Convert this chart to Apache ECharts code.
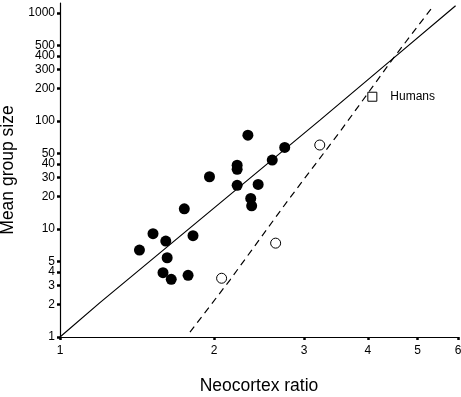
<!DOCTYPE html>
<html>
<head>
<meta charset="utf-8">
<script src="https://cdn.jsdelivr.net/npm/echarts@6/dist/echarts.min.js"></script>
<style>
  html, body { margin: 0; padding: 0; background: #fff; }
  #chart { width: 461px; height: 397px; }
</style>
</head>
<body>
<div id="chart"></div>
<script>
// tick labels
const xTicks = [1, 2, 3, 4, 5, 6];
const yTicks = [1, 2, 3, 4, 5, 10, 20, 30, 40, 50, 100, 200, 300, 400, 500, 1000];

// non-human primates (filled circles)
const primateRatio = [2.33, 2.75, 2.60, 2.22, 2.22, 1.96, 2.22, 2.44, 2.36, 2.37,
                      1.75, 1.52, 1.82, 1.61, 1.43, 1.62, 1.59, 1.65, 1.78];
const primateGroup = [74, 57, 43.5, 39, 35.7, 30.5, 25.4, 25.9, 19.2, 16.4,
                      15.4, 9.05, 8.67, 7.74, 6.39, 5.42, 3.94, 3.42, 3.73];

// open circles
const openRatio = [3.22, 2.64, 2.07];
const openGroup = [60, 7.4, 3.5];

// humans (square)
const humanRatio = [4.08];
const humanGroup = [168];

// regression lines
const solidRatio = [1, 1.197, 3.223, 4.482, 5.935];
const solidGroup = [1, 2.08, 102, 381, 1168];
const dashRatio = [1.795, 2.149, 2.795, 3.526, 4.482, 5.343];
const dashGroup = [1.11, 3.37, 18.6, 79.6, 381, 1129];

const font = 'Liberation Sans, Arial, Helvetica, sans-serif';
const zip = (a, b) => a.map((v, i) => [v, b[i]]);
const plain = v => String(Math.round(v));

const chart = echarts.init(document.getElementById('chart'));

chart.setOption({
  animation: false,
  backgroundColor: '#fff',
  grid: { left: 60, right: 3, top: 3, bottom: 60, containLabel: false, outerBoundsMode: 'none' },
  xAxis: {
    type: 'log',
    logBase: 10,
    min: 1,
    max: 6,
    name: 'Neocortex ratio',
    nameLocation: 'middle',
    nameGap: 40,
    nameTextStyle: { fontFamily: font, fontSize: 17.5, color: '#000' },
    axisLine: { lineStyle: { color: '#000', width: 1.2 } },
    axisTick: { show: true, length: 3, customValues: xTicks, lineStyle: { color: '#000', width: 2.5 } },
    axisLabel: { customValues: xTicks, formatter: plain, margin: 8, fontFamily: font, fontSize: 12, color: '#000' },
    splitLine: { show: false },
    minorTick: { show: false }
  },
  yAxis: {
    type: 'log',
    logBase: 10,
    min: 1,
    max: 1240,
    name: 'Mean group size',
    nameLocation: 'middle',
    nameGap: 41,
    nameRotate: 90,
    nameTextStyle: { fontFamily: font, fontSize: 17.5, color: '#000' },
    axisLine: { lineStyle: { color: '#000', width: 1.2 } },
    axisTick: { show: true, length: 3, customValues: yTicks, lineStyle: { color: '#000', width: 2.5 } },
    axisLabel: { customValues: yTicks, formatter: plain, margin: 5, fontFamily: font, fontSize: 12, color: '#000' },
    splitLine: { show: false },
    minorTick: { show: false }
  },
  series: [
    {
      type: 'line',
      data: zip(solidRatio, solidGroup),
      showSymbol: false,
      lineStyle: { color: '#000', width: 1.2 },
      z: 2
    },
    {
      type: 'line',
      data: zip(dashRatio, dashGroup),
      showSymbol: false,
      lineStyle: { color: '#000', width: 1.2, type: [7, 5] },
      z: 2
    },
    {
      type: 'scatter',
      data: zip(primateRatio, primateGroup),
      symbol: 'circle',
      symbolSize: 11,
      itemStyle: { color: '#000', opacity: 1 },
      z: 3
    },
    {
      type: 'scatter',
      data: zip(openRatio, openGroup),
      symbol: 'circle',
      symbolSize: 10,
      itemStyle: { color: '#fff', borderColor: '#000', borderWidth: 1, opacity: 1 },
      z: 3
    },
    {
      type: 'scatter',
      data: zip(humanRatio, humanGroup),
      symbol: 'rect',
      symbolSize: 9,
      itemStyle: { color: '#fff', borderColor: '#000', borderWidth: 1, opacity: 1 },
      label: {
        show: true,
        position: 'right',
        distance: 13,
        formatter: 'Humans',
        fontFamily: font,
        fontSize: 12,
        color: '#000'
      },
      z: 3
    }
  ]
});
</script>
</body>
</html>
